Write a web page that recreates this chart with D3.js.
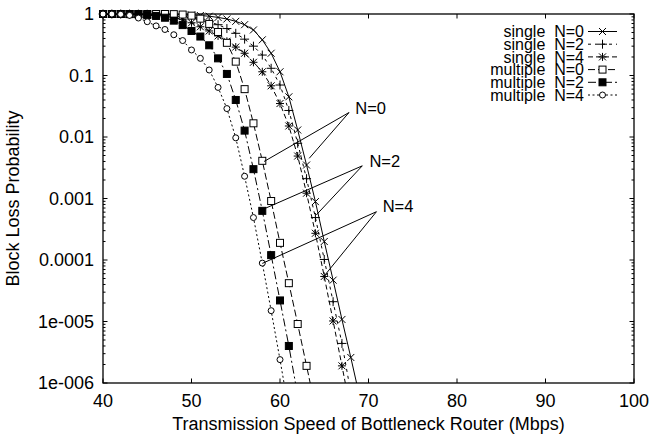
<!DOCTYPE html>
<html>
<head>
<meta charset="utf-8">
<script src="https://d3js.org/d3.v7.min.js"></script>
<style>
  body { margin: 0; background: #fff; }
  svg { font-family: "Liberation Sans", Arial, Helvetica, sans-serif; }
</style>
</head>
<body>
<svg id="chart" width="652" height="436"></svg>
<script>
// Transmission speed of the first point (Mbps); one point every 1 Mbps
let firstSpeed = 40;

// Block loss probability for each series
let singleN0 = [1, 1, 1, 1, 0.999, 0.998, 0.996, 0.993, 0.987, 0.978,
  0.965, 0.945, 0.92, 0.88, 0.83, 0.76, 0.67, 0.55, 0.38, 0.23,
  0.115, 0.045, 0.013, 0.0035, 0.00089, 0.0002, 4.7e-5, 1.08e-5, 2.6e-6, 6e-7];
let singleN2 = [1, 1, 0.999, 0.998, 0.995, 0.99, 0.98, 0.965, 0.94, 0.91,
  0.87, 0.82, 0.75, 0.67, 0.58, 0.485, 0.39, 0.30, 0.215, 0.131,
  0.070, 0.027, 0.0079, 0.0021, 0.00049, 0.000102, 2.1e-5, 4.4e-6, 7e-7];
let singleN4 = [1, 0.999, 0.997, 0.993, 0.985, 0.97, 0.95, 0.92, 0.88, 0.81,
  0.72, 0.62, 0.53, 0.44, 0.36, 0.29, 0.23, 0.164, 0.115, 0.068,
  0.035, 0.0151, 0.0049, 0.00122, 0.000272, 5.4e-5, 1.02e-5, 1.9e-6, 3.5e-7];
let multipleN0 = [1, 1, 1, 1, 1, 1, 1, 1, 0.995, 0.98,
  0.94, 0.84, 0.69, 0.51, 0.34, 0.168, 0.06, 0.0167, 0.0041, 0.00091,
  0.00019, 4.2e-5, 9.1e-6, 1.9e-6, 4e-7];
let multipleN2 = [1, 1, 1, 0.995, 0.985, 0.965, 0.93, 0.87, 0.78, 0.66,
  0.53, 0.43, 0.31, 0.19, 0.106, 0.040, 0.0127, 0.003, 0.00063, 0.00012,
  2.2e-5, 4e-6, 6.3e-7];
let multipleN4 = [1, 0.998, 0.99, 0.95, 0.86, 0.75, 0.64, 0.56, 0.46, 0.37,
  0.26, 0.19, 0.123, 0.064, 0.029, 0.0097, 0.0023, 0.00049, 8.9e-5, 1.5e-5,
  2.4e-6, 3.5e-7];

let seriesNames = ["single  N=0", "single  N=2", "single  N=4",
  "multiple  N=0", "multiple  N=2", "multiple  N=4"];
let seriesValues = [singleN0, singleN2, singleN4, multipleN0, multipleN2, multipleN4];

// Axis ticks
let xTicks = [40, 50, 60, 70, 80, 90, 100];
let yTicks = [1, 0.1, 0.01, 0.001, 0.0001, 1e-5, 1e-6];
let yTickLabels = ["1", "0.1", "0.01", "0.001", "0.0001", "1e-005", "1e-006"];

// "N=" annotations: label anchor and the two lines, in data units
let noteLabels = ["N=0", "N=2", "N=4"];
let noteAnchors = [[68.5, 0.0296], [70.1, 0.0040], [71.6, 0.00074]];
let noteStarts = [[67.8, 0.025], [69.3, 0.0034], [70.9, 0.00061]];
let noteEnds = [
  [[58.2, 0.0040], [63.3, 0.0045]],
  [[57.9, 0.00065], [64.1, 0.00054]],
  [[58.0, 0.000088], [64.9, 0.000053]]
];

let width = 652, height = 436;
let margin = {top: 14, right: 18, bottom: 53, left: 103};

let svg = d3.select('#chart');

let x = d3.scaleLinear()
  .domain([40, 100])
  .range([margin.left, width - margin.right]);
let y = d3.scaleLog()
  .domain([1e-6, 1])
  .range([height - margin.bottom, margin.top]);

// line style and marker for each series
let dashes = [null, "3,4", "5,3", "7,3", "8,3,2,3", "2,2.5"];
let markers = ["cross", "plus", "star", "box", "fbox", "circle"];

function drawMarker(g, kind) {
  let s = 3.5;
  if (kind == 'cross' || kind == 'star') {
    g.append('path').attr('d', `M${-s},${-s}L${s},${s}M${-s},${s}L${s},${-s}`);
  }
  if (kind == 'plus' || kind == 'star') {
    let p = kind == 'star' ? 4 : 4.5;
    g.append('path').attr('d', `M${-p},0L${p},0M0,${-p}L0,${p}`);
  }
  if (kind == 'box' || kind == 'fbox') {
    g.append('rect')
      .attr('x', -3.5).attr('y', -3.5)
      .attr('width', 7).attr('height', 7)
      .attr('fill', kind == 'fbox' ? '#000' : '#fff');
  }
  if (kind == 'circle') {
    g.append('circle').attr('r', 3).attr('fill', '#fff');
  }
}

svg.append('clipPath').attr('id', 'plotClip')
  .append('rect')
  .attr('x', margin.left).attr('y', margin.top)
  .attr('width', width - margin.left - margin.right)
  .attr('height', height - margin.top - margin.bottom);

// Axes with ticks on all four sides (pointing inward)
let tickLen = 4.5;
let minorLen = 2.5;
let axes = svg.append('g').attr('stroke', '#000').attr('stroke-width', 1);

xTicks.forEach(v => {
  axes.append('line')
    .attr('x1', x(v)).attr('x2', x(v))
    .attr('y1', y(1e-6)).attr('y2', y(1e-6) - tickLen);
  axes.append('line')
    .attr('x1', x(v)).attr('x2', x(v))
    .attr('y1', y(1)).attr('y2', y(1) + tickLen);
});

yTicks.forEach(v => {
  axes.append('line')
    .attr('x1', x(40)).attr('x2', x(40) + tickLen)
    .attr('y1', y(v)).attr('y2', y(v));
  axes.append('line')
    .attr('x1', x(100)).attr('x2', x(100) - tickLen)
    .attr('y1', y(v)).attr('y2', y(v));
});

// minor ticks at 2..9 of each decade
for (let e = -6; e < 0; ++e) {
  for (let m = 2; m < 10; ++m) {
    let v = m * Math.pow(10, e);
    axes.append('line')
      .attr('x1', x(40)).attr('x2', x(40) + minorLen)
      .attr('y1', y(v)).attr('y2', y(v));
    axes.append('line')
      .attr('x1', x(100)).attr('x2', x(100) - minorLen)
      .attr('y1', y(v)).attr('y2', y(v));
  }
}

svg.append('rect')
  .attr('x', margin.left).attr('y', margin.top)
  .attr('width', width - margin.left - margin.right)
  .attr('height', height - margin.top - margin.bottom)
  .attr('fill', 'none')
  .attr('stroke', '#000')
  .attr('stroke-width', 1.3);

// tick labels
svg.append('g')
  .selectAll('text')
  .data(xTicks)
  .enter()
  .append('text')
  .attr('x', d => x(d))
  .attr('y', 407)
  .attr('text-anchor', 'middle')
  .attr('font-size', 18)
  .text(d => d);

svg.append('g')
  .selectAll('text')
  .data(yTicks)
  .enter()
  .append('text')
  .attr('x', 94)
  .attr('y', d => y(d))
  .attr('dy', '0.35em')
  .attr('text-anchor', 'end')
  .attr('font-size', 18)
  .text((d, i) => yTickLabels[i]);

// axis titles
svg.append('text')
  .attr('x', (margin.left + width - margin.right) / 2)
  .attr('y', 430)
  .attr('text-anchor', 'middle')
  .attr('font-size', 18)
  .text('Transmission Speed of Bottleneck Router (Mbps)');

svg.append('text')
  .attr('transform', `translate(19,${(margin.top + height - margin.bottom) / 2}) rotate(-90)`)
  .attr('text-anchor', 'middle')
  .attr('font-size', 18)
  .text('Block Loss Probability');

// data lines
let line = d3.line()
  .x((d, i) => x(firstSpeed + i))
  .y(d => y(d));

let plot = svg.append('g');
seriesValues.forEach((vals, k) => {
  plot.append('path')
    .attr('d', line(vals))
    .attr('clip-path', 'url(#plotClip)')
    .attr('fill', 'none')
    .attr('stroke', '#000')
    .attr('stroke-width', 1)
    .attr('stroke-dasharray', dashes[k]);
});

// markers (only the ones inside the plot)
seriesValues.forEach((vals, k) => {
  vals.forEach((v, i) => {
    if (v < 1e-6) return;
    let g = plot.append('g')
      .attr('transform', `translate(${x(firstSpeed + i)},${y(v)})`)
      .attr('stroke', '#000')
      .attr('stroke-width', 1);
    drawMarker(g, markers[k]);
  });
});

// annotations
let notes = svg.append('g');
noteLabels.forEach((lab, k) => {
  noteEnds[k].forEach(end => {
    notes.append('line')
      .attr('x1', x(noteStarts[k][0])).attr('y1', y(noteStarts[k][1]))
      .attr('x2', x(end[0])).attr('y2', y(end[1]))
      .attr('stroke', '#000')
      .attr('stroke-width', 1);
  });
  notes.append('text')
    .attr('x', x(noteAnchors[k][0]))
    .attr('y', y(noteAnchors[k][1]))
    .attr('dy', '0.35em')
    .attr('font-size', 16.5)
    .text(lab);
});

// legend, top right
let legend = svg.append('g');
seriesNames.forEach((name, k) => {
  let ly = 31.5 + k * 12.7;
  legend.append('text')
    .attr('x', 584)
    .attr('y', ly)
    .attr('dy', '0.35em')
    .attr('text-anchor', 'end')
    .attr('font-size', 16)
    .style('white-space', 'pre')
    .text(name);
  legend.append('line')
    .attr('x1', 588).attr('x2', 617)
    .attr('y1', ly).attr('y2', ly)
    .attr('stroke', '#000')
    .attr('stroke-width', 1)
    .attr('stroke-dasharray', dashes[k]);
  let g = legend.append('g')
    .attr('transform', `translate(602.5,${ly})`)
    .attr('stroke', '#000')
    .attr('stroke-width', 1);
  drawMarker(g, markers[k]);
});
</script>
</body>
</html>
